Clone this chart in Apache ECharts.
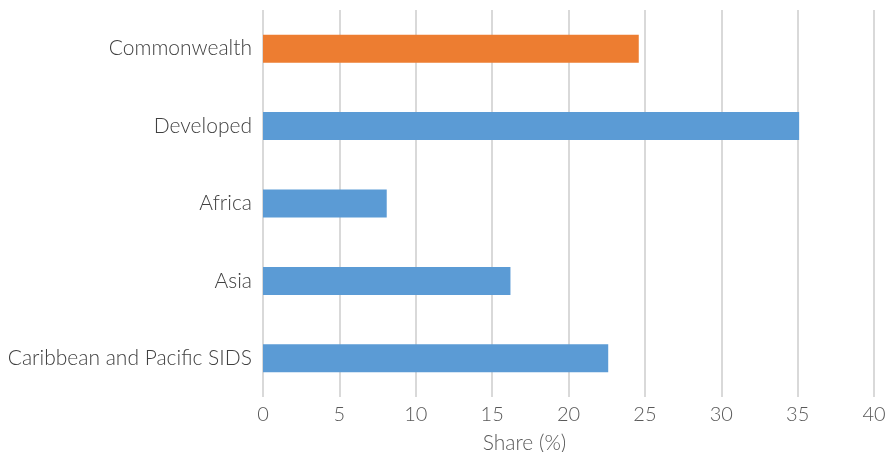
<!DOCTYPE html>
<html>
<head>
<meta charset="utf-8">
<style>
  html, body { margin: 0; padding: 0; background: #ffffff; }
  #chart { width: 887px; height: 452px; }
</style>
<script src="https://cdn.jsdelivr.net/npm/echarts@6/dist/echarts.min.js"></script>
</head>
<body>
<div id="chart"></div>
<script>
// Groups shown top to bottom
const categories = ['Commonwealth', 'Developed', 'Africa', 'Asia', 'Caribbean and Pacific SIDS'];
// Share of each group, in percent
const shares = [24.6, 35.1, 8.1, 16.2, 22.6];
// Bar colours: the Commonwealth bar is highlighted
const barColors = ['#ED7D31', '#5B9BD5', '#5B9BD5', '#5B9BD5', '#5B9BD5'];
const xTicks = { min: 0, max: 40, interval: 5 };

const chart = echarts.init(document.getElementById('chart'), null, { renderer: 'canvas' });

const font = 'Lato, "Open Sans", sans-serif';

chart.setOption({
  animation: false,
  grid: { left: 263, right: 13, top: 10, bottom: 55, containLabel: false, outerBoundsMode: 'none' },
  xAxis: {
    type: 'value',
    min: xTicks.min,
    max: xTicks.max,
    interval: xTicks.interval,
    name: 'Share (%)',
    nameLocation: 'middle',
    nameGap: 36,
    nameTextStyle: { color: '#595959', fontSize: 21, fontFamily: font, fontWeight: 300, padding: [0, 88, 0, 0] },
    axisLine: { show: false },
    axisTick: { show: false },
    axisLabel: { color: '#595959', fontSize: 20, fontFamily: font, fontWeight: 300, margin: 8 },
    splitLine: { show: true, lineStyle: { color: '#D9D9D9', width: 2 } }
  },
  yAxis: {
    type: 'category',
    data: categories,
    inverse: true,
    axisLine: { show: false },
    axisTick: { show: false },
    axisLabel: { color: '#404040', fontSize: 21, fontFamily: font, fontWeight: 300, margin: 11 }
  },
  series: [{
    type: 'bar',
    data: shares.map((v, i) => ({ value: v, itemStyle: { color: barColors[i] } })),
    barWidth: 28
  }]
});
</script>
</body>
</html>
